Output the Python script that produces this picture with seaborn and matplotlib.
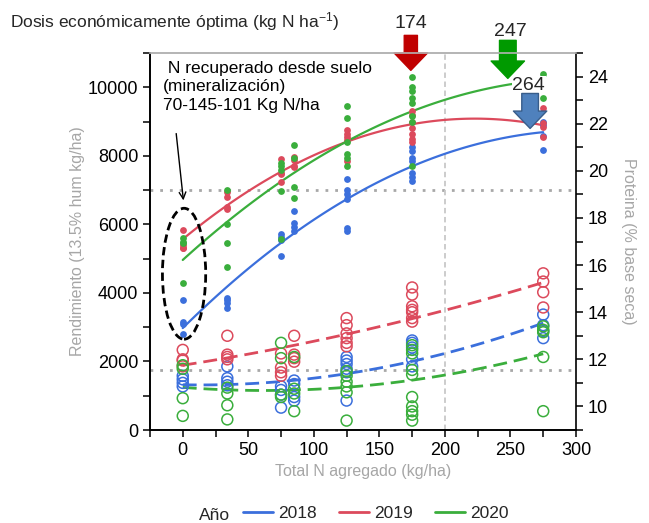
import matplotlib
matplotlib.use('Agg')
import matplotlib.pyplot as plt
from matplotlib.patches import Ellipse
from matplotlib.lines import Line2D
from matplotlib.ticker import MultipleLocator
import seaborn as sns
import pandas as pd

# ==============================
# DATOS
# ==============================
n_levels = [0, 34, 75, 85, 125, 175, 275]
years = ['2018', '2019', '2020']
colors = {'2018': '#3b6fdc', '2019': '#dc4a5c', '2020': '#3aae3c'}

# rendimiento (kg/ha), puntos llenos
rend_2018 = [[3800, 3150, 3100, 2800], [3850, 3800, 3700, 3560],
             [5710, 5630, 5540, 5070], [6380, 6030, 5920, 5820],
             [7320, 7000, 6900, 6730, 5890, 5800],
             [8250, 8150, 7950, 7850, 7500, 7370, 7280],
             [8980, 8900, 8570, 8180]]
rend_2019 = [[5850, 5400, 5300, 5300], [6950, 6800, 6500, 6450],
             [7900, 7500, 7470, 7230], [7960, 7870, 7700, 7670],
             [8750, 8650, 8550, 8450, 7850],
             [9300, 9200, 9000, 8800, 8650, 8500, 8400],
             [9400, 8950, 8850, 8550]]
rend_2020 = [[5600, 5500, 5450, 4300], [7000, 6000, 5450, 4750],
             [7800, 7700, 7600, 6970, 5570], [8310, 7930, 7080, 6760],
             [9450, 9100, 8400, 8050, 7950, 7700],
             [10300, 10000, 9900, 9700, 9530, 9150, 8980, 7700],
             [10400, 9700]]

# proteina (% base seca), circulos abiertos
prot_2018 = [[11.3, 11.15, 11.0, 10.85], [11.7, 11.2, 11.05, 10.9],
             [10.85, 10.7, 10.5, 9.95], [11.1, 10.95, 10.4, 10.25],
             [12.1, 11.95, 11.8, 11.6, 11.45, 10.25],
             [12.8, 12.7, 12.5, 12.0, 11.7],
             [13.9, 13.45, 13.2, 12.9]]
prot_2019 = [[12.4, 12.0, 11.95, 11.7], [13.0, 12.2, 12.1, 12.0],
             [12.25, 11.65, 11.45, 11.3], [13.0, 12.2, 12.05, 11.9],
             [13.75, 13.45, 13.1, 12.9, 12.7, 12.55],
             [15.05, 14.75, 14.25, 14.1, 14.0, 13.75, 13.6],
             [15.65, 15.3, 14.85, 14.2]]
prot_2020 = [[11.75, 11.6, 10.35, 9.6], [10.8, 10.55, 10.05, 9.45],
             [12.7, 12.05, 10.5, 10.4], [12.1, 10.75, 10.55, 9.8],
             [11.5, 11.3, 11.05, 10.85, 10.6, 9.4],
             [12.6, 12.4, 12.25, 11.55, 11.35, 10.4, 10.0, 9.8, 9.65, 9.4],
             [13.4, 13.25, 13.15, 12.1, 9.8]]

# dosis economicamente optima por anio
dosis_labels = {'2019': '174', '2020': '247', '2018': '264'}


def to_long(groups, year, col):
    rows = []
    for n, vals in zip(n_levels, groups):
        for v in vals:
            rows.append({'N': n, 'year': year, col: v})
    return rows


rows_r, rows_p = [], []
for y, r, p in zip(years, [rend_2018, rend_2019, rend_2020],
                   [prot_2018, prot_2019, prot_2020]):
    rows_r += to_long(r, y, 'rend')
    rows_p += to_long(p, y, 'prot')
df_r = pd.DataFrame(rows_r)
df_p = pd.DataFrame(rows_p)

# ==============================
# ESTILO
# ==============================
sns.set_theme(style='ticks')
plt.rcParams['font.family'] = ['Liberation Sans', 'DejaVu Sans']
plt.rcParams['mathtext.default'] = 'regular'

fig = plt.figure(figsize=(6.49, 5.23), dpi=100)
ax = fig.add_axes([0.2311, 0.1778, 0.6564, 0.7208])
ax2 = ax.twinx()

gray = '#a6a6a6'

# lineas de referencia
ax.axhline(7000, color='#a8a8a8', ls=(0, (1, 2.5)), lw=2, zorder=0)
ax.axhline(1750, color='#a8a8a8', ls=(0, (1, 2.5)), lw=2, zorder=0)
ax.axvline(200, color='#c8c8c8', ls=(0, (3, 2)), lw=1.3, zorder=0)

# ==============================
# RENDIMIENTO (eje izquierdo)
# ==============================
for y in years:
    sub = df_r[df_r['year'] == y]
    sns.scatterplot(data=sub, x='N', y='rend', color=colors[y], s=24,
                    linewidth=0, ax=ax, zorder=3)
    sns.regplot(data=sub, x='N', y='rend', order=2, ci=None, scatter=False,
                truncate=True, color=colors[y], line_kws=dict(lw=1.6), ax=ax)

# ==============================
# PROTEINA (eje derecho)
# ==============================
for y in years:
    sub = df_p[df_p['year'] == y]
    sns.scatterplot(data=sub, x='N', y='prot', s=62, facecolor='none',
                    edgecolor=colors[y], linewidth=1.1, ax=ax2, zorder=3)
    sns.regplot(data=sub, x='N', y='prot', order=2, ci=None, scatter=False,
                truncate=True, color=colors[y],
                line_kws=dict(lw=2, ls=(0, (5, 2.5))), ax=ax2)

# ejes
ax.set_xlim(-25, 300)
ax.set_ylim(0, 11000)
ax2.set_ylim(9, 25)
ax.xaxis.set_major_locator(MultipleLocator(50))
ax.xaxis.set_minor_locator(MultipleLocator(25))
ax.yaxis.set_major_locator(MultipleLocator(2000))
ax.yaxis.set_minor_locator(MultipleLocator(1000))
ax2.yaxis.set_major_locator(MultipleLocator(2))
ax2.yaxis.set_minor_locator(MultipleLocator(1))

for a in (ax, ax2):
    a.tick_params(which='both', direction='out', length=5, width=1.1,
                  color='black', labelsize=13, labelcolor='black')
    for s in a.spines.values():
        s.set_linewidth(1.2)
        s.set_color('black')
    a.spines['top'].set_color('#b4b4b4')
ax.spines['right'].set_visible(False)

ax.set_xlabel('Total N agregado (kg/ha)', color=gray, fontsize=11.5, labelpad=4)
ax.set_ylabel('Rendimiento (13.5% hum kg/ha)', color=gray, fontsize=11.5, labelpad=2)
ax2.set_ylabel('Proteina (% base seca)', color=gray, fontsize=11.5,
               rotation=270, labelpad=20)

# ==============================
# ANOTACIONES
# ==============================
ax.add_patch(Ellipse((1, 4560), 33, 3820, fill=False, ec='black', lw=2,
                     ls=(0, (3, 1.6)), zorder=4))
ax.annotate('', xy=(0.5, 6700), xytext=(-5, 8650),
            arrowprops=dict(arrowstyle='->', color='black', lw=1,
                            shrinkA=0, shrinkB=0))
ax.text(-15, 10780, ' N recuperado desde suelo\n(mineralización)\n70-145-101 Kg N/ha',
        ha='left', va='top', fontsize=12.5, linespacing=1.3, color='black')

arrow_style = 'simple,head_width=2.4,head_length=1.25,tail_width={}'
ax.annotate('', xy=(174, 10494), xytext=(174, 11515), annotation_clip=False,
            arrowprops=dict(arrowstyle=arrow_style.format(0.95), mutation_scale=10,
                            fc='#c00000', ec='#c00000', shrinkA=0, shrinkB=0))
ax.annotate('', xy=(248, 10260), xytext=(248, 11370), annotation_clip=False,
            arrowprops=dict(arrowstyle=arrow_style.format(1.2), mutation_scale=10,
                            fc='#009a00', ec='#009a00', shrinkA=0, shrinkB=0))
ax.annotate('', xy=(265, 8800), xytext=(265, 9820), annotation_clip=False,
            arrowprops=dict(arrowstyle=arrow_style.format(1.2), mutation_scale=10,
                            fc='#4f81bd', ec='#385d8a', lw=1, shrinkA=0, shrinkB=0),
            zorder=6)

ax.text(174, 11850, dosis_labels['2019'], ha='center', va='center',
        fontsize=14, clip_on=False)
ax.text(250, 11620, dosis_labels['2020'], ha='center', va='center',
        fontsize=14, clip_on=False)
ax.text(264, 10060, dosis_labels['2018'], ha='center', va='center',
        fontsize=14, zorder=5,
        bbox=dict(fc='white', ec='none', pad=0.3))

fig.text(10 / 649, 1 - 22 / 523,
         'Dosis económicamente óptima (kg N ha$^{-1}$)',
         ha='left', va='center', fontsize=12.5)

# leyenda
handles = [Line2D([], [], color=colors[y], lw=2) for y in years]
fig.legend(handles, years, ncol=3, loc='center', frameon=False,
           bbox_to_anchor=(376 / 649, 1 - 513 / 523), fontsize=12.5,
           handlelength=1.7, handletextpad=0.3, columnspacing=1.3)
fig.text(215 / 649, 1 - 516 / 523, 'Año', ha='center', va='center', fontsize=12.5)

fig.savefig('out.png', dpi=100)
